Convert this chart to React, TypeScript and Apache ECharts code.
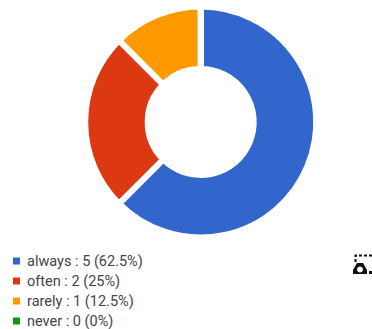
import React, { useEffect, useRef } from "react";
import * as echarts from "echarts";

const categories = ["always", "often", "rarely", "never"];
const counts = [5, 2, 1, 0];
const percents = ["62.5%", "25%", "12.5%", "0%"];
const colors = ["#3366cc", "#dc3912", "#ff9900", "#109618"];

export default function App() {
  const ref = useRef<HTMLDivElement>(null);
  useEffect(() => {
    const chart = echarts.init(ref.current!, undefined, { renderer: "svg" });
    chart.setOption({
      animation: false,
      color: colors,
      legend: {
        orient: "vertical",
        left: 11,
        top: 253,
        height: 76,
        padding: 0,
        itemWidth: 9,
        itemHeight: 9,
        itemGap: 4,
        icon: "rect",
        selectedMode: false,
        textStyle: {
          fontFamily: "Roboto",
          fontSize: 14.5,
          color: "#444444",
          lineHeight: 16,
          padding: [0, 0, 0, 1],
        },
        formatter: (name: string) => {
          const i = categories.indexOf(name);
          return `${name} : ${counts[i]} (${percents[i]})`;
        },
        data: categories,
      },
      series: [
        {
          type: "pie",
          center: [200.7, 122],
          radius: [53, 115.5],
          startAngle: 90,
          clockwise: true,
          silent: true,
          stillShowZeroSum: false,
          label: { show: false },
          labelLine: { show: false },
          itemStyle: { borderColor: "#ffffff", borderWidth: 6 },
          data: categories.map((name, i) => ({ name, value: counts[i] })),
        },
      ],
      graphic: [
        {
          type: "group",
          children: [
            { type: "polyline", shape: { points: [[355.5, 262], [355.5, 255.5], [372, 255.5]] }, style: { stroke: "#111", lineWidth: 2, lineDash: [3, 2], fill: "none" } },
            { type: "polygon", shape: { points: [[353, 274], [353, 270], [357, 263], [363, 263], [367, 270], [367, 274]] }, style: { fill: "#111" } },
            { type: "circle", shape: { cx: 360, cy: 269.5, r: 3 }, style: { fill: "#fff" } },
            { type: "rect", shape: { x: 369, y: 271, width: 3, height: 3 }, style: { fill: "#111" } },
          ],
        },
      ],
    });
    return () => chart.dispose();
  }, []);
  return (
    <div
      ref={ref}
      style={{ position: "fixed", left: 0, top: 0, width: 372, height: 329, background: "#fff" }}
    />
  );
}
